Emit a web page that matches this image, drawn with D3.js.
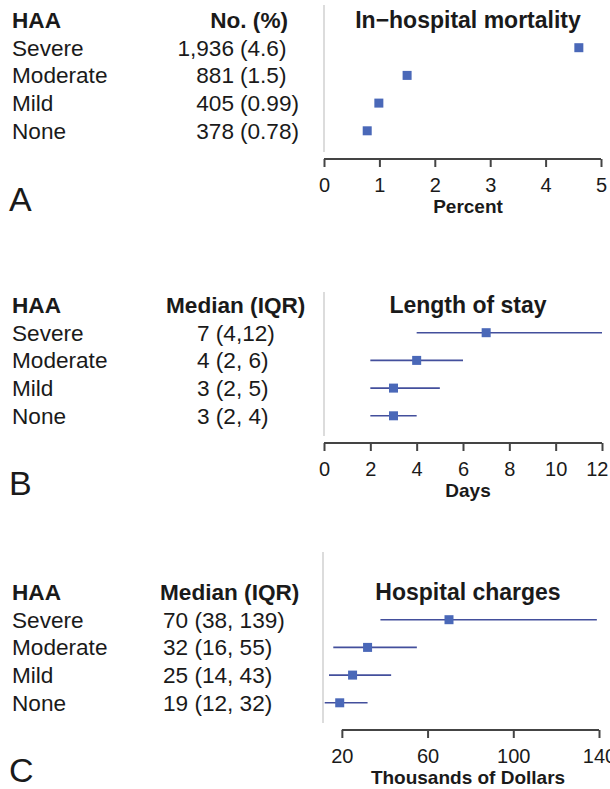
<!DOCTYPE html>
<html>
<head>
<meta charset="utf-8">
<script src="https://cdn.jsdelivr.net/npm/d3@7"></script>
<style>
  body { margin: 0; background: #fff; }
  svg text { font-family: "Liberation Sans", Arial, sans-serif; fill: #1a1a1a; }
</style>
</head>
<body>
<div id="chart-area"></div>
<script>
// data
var groups = ["Severe", "Moderate", "Mild", "None"];

var mortCount = ["1,936", "881", "405", "378"];
var mortPct = [4.6, 1.5, 0.99, 0.78];
var mortTicks = [0, 1, 2, 3, 4, 5];

var losMedian = [7, 4, 3, 3];
var losLow = [4, 2, 2, 2];
var losHigh = [12, 6, 5, 4];
var losLabels = ["7 (4,12)", "4 (2, 6)", "3 (2, 5)", "3 (2, 4)"];
var losTicks = [0, 2, 4, 6, 8, 10, 12];

var chgMedian = [70, 32, 25, 19];
var chgLow = [38, 16, 14, 12];
var chgHigh = [139, 55, 43, 32];
var chgLabels = ["70 (38, 139)", "32 (16, 55)", "25 (14, 43)", "19 (12, 32)"];
var chgTicks = [20, 60, 100, 140];

var width = 610, height = 789;
var rowGap = 27.7;
var fs = 22.6;
var markColor = "#4a68b8", lineColor = "#434f9c";

var svg = d3.select("#chart-area")
  .append("svg")
  .attr("width", width)
  .attr("height", height);

var panels = [
  {
    letter: "A", top: 20, letterY: 211, lineTop: 5, axisY: 159,
    header: "No. (%)", title: "In\u2212hospital mortality", axisTitle: "Percent",
    domain: [0, 5], range: [324, 601], ticks: mortTicks,
    med: mortPct, lo: null, hi: null
  },
  {
    letter: "B", top: 305, letterY: 495, lineTop: 292, axisY: 443,
    header: "Median (IQR)", headerX: 166, valueX: 197, labels: losLabels,
    title: "Length of stay", axisTitle: "Days",
    domain: [0, 12], range: [324, 602], ticks: losTicks, keepInside: true,
    med: losMedian, lo: losLow, hi: losHigh
  },
  {
    letter: "C", top: 592, letterY: 782, lineTop: 552, axisY: 730,
    header: "Median (IQR)", headerX: 160, valueX: 163, labels: chgLabels,
    title: "Hospital charges", axisTitle: "Thousands of Dollars",
    domain: [11.2, 140], range: [323, 599], ticks: chgTicks,
    med: chgMedian, lo: chgLow, hi: chgHigh
  }
];

panels.forEach(function(p) {
  var g = svg.append("g");
  var rowY = function(i) { return p.top + (i + 1) * rowGap; };
  var x = d3.scaleLinear().domain(p.domain).range(p.range);

  // left table
  g.append("text").attr("x", 12).attr("y", p.top + 8)
    .attr("font-size", fs).attr("font-weight", "bold").text("HAA");

  g.selectAll(".grp").data(groups).enter().append("text")
    .attr("x", 12).attr("y", function(d, i) { return rowY(i) + 8; })
    .attr("font-size", fs).text(function(d) { return d; });

  if (p.letter === "A") {
    g.append("text").attr("x", 288).attr("y", p.top + 8)
      .attr("text-anchor", "end").attr("font-size", fs).attr("font-weight", "bold")
      .text(p.header);
    g.selectAll(".cnt").data(mortCount).enter().append("text")
      .attr("x", 234).attr("y", function(d, i) { return rowY(i) + 8; })
      .attr("text-anchor", "end").attr("font-size", fs)
      .text(function(d) { return d; });
    g.selectAll(".pct").data(mortPct).enter().append("text")
      .attr("x", 240).attr("y", function(d, i) { return rowY(i) + 8; })
      .attr("font-size", fs)
      .text(function(d) { return "(" + d + ")"; });
  } else {
    g.append("text").attr("x", p.headerX).attr("y", p.top + 8)
      .attr("font-size", fs).attr("font-weight", "bold").text(p.header);
    g.selectAll(".val").data(p.labels).enter().append("text")
      .attr("x", p.valueX).attr("y", function(d, i) { return rowY(i) + 8; })
      .attr("font-size", fs).text(function(d) { return d; });
  }

  g.append("text").attr("x", 9).attr("y", p.letterY)
    .attr("font-size", 34).text(p.letter);

  // plot side
  g.append("line")
    .attr("x1", p.range[0]).attr("x2", p.range[0])
    .attr("y1", p.lineTop).attr("y2", p.axisY - 7)
    .attr("stroke", "#dcdcdc").attr("stroke-width", 2);

  g.append("text").attr("x", 468).attr("y", p.top + 8)
    .attr("text-anchor", "middle").attr("font-size", 23).attr("font-weight", "bold")
    .text(p.title);

  if (p.lo) {
    g.selectAll(".iqr").data(p.med).enter().append("line")
      .attr("x1", function(d, i) { return x(p.lo[i]); })
      .attr("x2", function(d, i) { return x(p.hi[i]); })
      .attr("y1", function(d, i) { return rowY(i); })
      .attr("y2", function(d, i) { return rowY(i); })
      .attr("stroke", lineColor).attr("stroke-width", 1.6);
  }

  g.selectAll(".pt").data(p.med).enter().append("rect")
    .attr("x", function(d) { return x(d) - 4.5; })
    .attr("y", function(d, i) { return rowY(i) - 4.5; })
    .attr("width", 9).attr("height", 9)
    .attr("fill", markColor);

  var axis = d3.axisBottom(x)
    .tickValues(p.ticks)
    .tickFormat(d3.format("d"))
    .tickSize(8)
    .tickPadding(11)
    .tickSizeOuter(0);

  var ag = g.append("g")
    .attr("transform", "translate(0," + p.axisY + ")")
    .call(axis);
  ag.select(".domain").remove();
  ag.selectAll(".tick line").attr("stroke", "#444").attr("stroke-width", 2);
  ag.selectAll(".tick text").attr("font-size", 20).attr("fill", "#222")
    .attr("font-family", "Liberation Sans, Arial, sans-serif");
  ag.append("line")
    .attr("x1", x(p.ticks[0])).attr("x2", x(p.ticks[p.ticks.length - 1]))
    .attr("stroke", "#444").attr("stroke-width", 2);

  // nudge the last label back inside the page, as in the source figure
  if (p.keepInside) {
    ag.selectAll(".tick text").each(function(d) {
      var b = this.getBBox();
      var right = x(d) + b.x + b.width;
      if (right > width - 2) d3.select(this).attr("dx", (width - 2 - right) + "px");
    });
  }

  g.append("text").attr("x", 468).attr("y", p.axisY + 54)
    .attr("text-anchor", "middle").attr("font-size", 19).attr("font-weight", "bold")
    .text(p.axisTitle);
});
</script>
</body>
</html>
